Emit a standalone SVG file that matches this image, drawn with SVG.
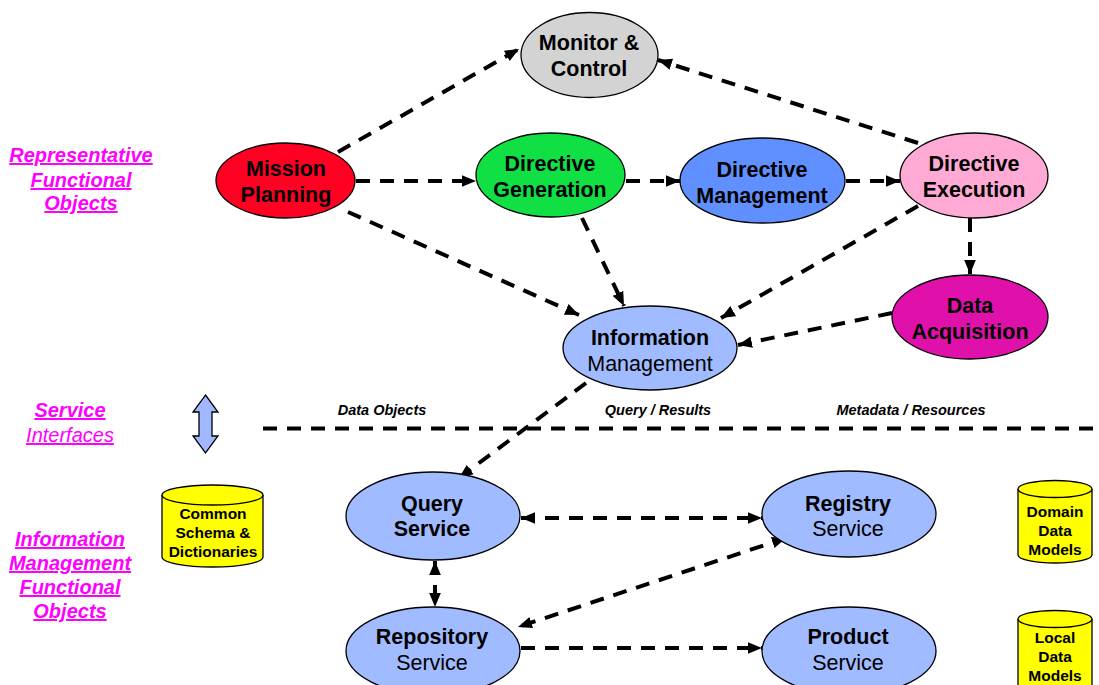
<svg xmlns="http://www.w3.org/2000/svg" width="1099" height="685" viewBox="0 0 1099 685">
<defs>
<style>
.n{stroke:#000;stroke-width:1.3}
.t{font-family:"Liberation Sans",Arial,sans-serif;font-size:21.5px;text-anchor:middle;fill:#000}
.b{font-weight:bold}
.c{font-family:"Liberation Sans",Arial,sans-serif;font-size:15.5px;font-weight:bold;text-anchor:middle;fill:#000}
.lbl{font-family:"Liberation Sans",Arial,sans-serif;font-size:20px;font-style:italic;text-anchor:middle;fill:#FF00FF;text-decoration:underline}
.il{font-family:"Liberation Sans",Arial,sans-serif;font-size:14.5px;font-style:italic;font-weight:bold;text-anchor:middle;fill:#000}
.e{fill:none;stroke:#000;stroke-width:4;stroke-dasharray:14 10}
.cy{fill:#FFFF00;stroke:#000;stroke-width:1.3}
</style>
<marker id="ah" viewBox="0 0 12 10" refX="12" refY="5" markerWidth="14" markerHeight="12" markerUnits="userSpaceOnUse" orient="auto-start-reverse">
<path d="M0,0 L12,5 L0,10 Z" fill="#000"/>
</marker>
</defs>
<rect width="1099" height="685" fill="#fff"/>

<g id="labels">
<text class="lbl b" x="81" y="162">Representative</text>
<text class="lbl b" x="81" y="187">Functional</text>
<text class="lbl b" x="81" y="210">Objects</text>
<text class="lbl b" x="70" y="417">Service</text>
<text class="lbl" x="70" y="442">Interfaces</text>
<text class="lbl b" x="70" y="546">Information</text>
<text class="lbl b" x="70" y="570">Management</text>
<text class="lbl b" x="70" y="594">Functional</text>
<text class="lbl b" x="70" y="618">Objects</text>
<text class="il" x="382" y="415">Data Objects</text>
<text class="il" x="658" y="415">Query / Results</text>
<text class="il" x="911" y="415">Metadata / Resources</text>
</g>

<g id="interface-arrow">
<path d="M205.5,395 L218,412 L212,412 L212,436 L218,436 L205.5,453 L193,436 L199,436 L199,412 L193,412 Z" fill="#9FB8FF" stroke="#000" stroke-width="1.3"/>
</g>

<g id="connectors">
<line class="e" x1="263" y1="428.5" x2="1099" y2="428.5"/>
<line class="e" x1="338" y1="152" x2="519" y2="49" marker-end="url(#ah)"/>
<line class="e" x1="918" y1="143" x2="658" y2="60" marker-end="url(#ah)"/>
<line class="e" x1="356" y1="181" x2="476" y2="181" marker-end="url(#ah)"/>
<line class="e" x1="626" y1="181" x2="680" y2="181" marker-end="url(#ah)"/>
<line class="e" x1="846" y1="181" x2="900" y2="181" marker-end="url(#ah)"/>
<line class="e" x1="348" y1="212" x2="579" y2="315" marker-end="url(#ah)"/>
<line class="e" x1="582" y1="218" x2="624" y2="306" marker-end="url(#ah)"/>
<line class="e" x1="918" y1="206" x2="721" y2="318" marker-end="url(#ah)"/>
<line class="e" x1="970" y1="218" x2="970" y2="274" marker-end="url(#ah)"/>
<line class="e" x1="892" y1="313" x2="738" y2="345" marker-end="url(#ah)"/>
<line class="e" x1="586" y1="383" x2="459" y2="478" marker-end="url(#ah)"/>
<line class="e" x1="521" y1="518" x2="762" y2="518" marker-start="url(#ah)" marker-end="url(#ah)"/>
<line class="e" x1="435" y1="561" x2="435" y2="607" stroke-dasharray="14 8" marker-start="url(#ah)" marker-end="url(#ah)"/>
<line class="e" x1="786" y1="538" x2="518" y2="627" marker-start="url(#ah)" marker-end="url(#ah)"/>
<line class="e" x1="521" y1="648" x2="762" y2="648" marker-end="url(#ah)"/>
</g>

<g id="monitor-control">
<ellipse class="n" cx="589.5" cy="55" rx="68.5" ry="42.5" fill="#D3D3D3"/>
<text class="t b" x="589" y="50">Monitor &amp;</text>
<text class="t b" x="589" y="76">Control</text>
</g>
<g id="mission-planning">
<ellipse class="n" cx="285.5" cy="180.5" rx="69.5" ry="37.5" fill="#FF0022"/>
<text class="t b" x="286" y="176">Mission</text>
<text class="t b" x="286" y="202">Planning</text>
</g>
<g id="directive-generation">
<ellipse class="n" cx="550.5" cy="175" rx="74.5" ry="42" fill="#11E044"/>
<text class="t b" x="550" y="171">Directive</text>
<text class="t b" x="550" y="197">Generation</text>
</g>
<g id="directive-management">
<ellipse class="n" cx="762.5" cy="180.5" rx="82.5" ry="42.5" fill="#6090FF"/>
<text class="t b" x="762" y="177">Directive</text>
<text class="t b" x="762" y="203">Management</text>
</g>
<g id="directive-execution">
<ellipse class="n" cx="974" cy="175.5" rx="74" ry="42.5" fill="#FFAAD4"/>
<text class="t b" x="974" y="171">Directive</text>
<text class="t b" x="974" y="197">Execution</text>
</g>
<g id="data-acquisition">
<ellipse class="n" cx="970" cy="317" rx="78" ry="42" fill="#E010AA"/>
<text class="t b" x="970" y="313">Data</text>
<text class="t b" x="970" y="339">Acquisition</text>
</g>
<g id="information-management">
<ellipse class="n" cx="650" cy="348" rx="87" ry="42" fill="#A0BBFF"/>
<text class="t b" x="650" y="345">Information</text>
<text class="t" x="650" y="371">Management</text>
</g>
<g id="query-service">
<ellipse class="n" cx="433" cy="516" rx="87" ry="44" fill="#A0BBFF"/>
<text class="t b" x="432" y="511">Query</text>
<text class="t b" x="432" y="536">Service</text>
</g>
<g id="registry-service">
<ellipse class="n" cx="849" cy="514" rx="87" ry="43" fill="#A0BBFF"/>
<text class="t b" x="848" y="511">Registry</text>
<text class="t" x="848" y="536">Service</text>
</g>
<g id="repository-service">
<ellipse class="n" cx="433" cy="651" rx="87" ry="44" fill="#A0BBFF"/>
<text class="t b" x="432" y="644">Repository</text>
<text class="t" x="432" y="670">Service</text>
</g>
<g id="product-service">
<ellipse class="n" cx="849" cy="651" rx="87" ry="44" fill="#A0BBFF"/>
<text class="t b" x="848" y="644">Product</text>
<text class="t" x="848" y="670">Service</text>
</g>

<g id="common-schema">
<path class="cy" d="M162,495 L162,557 A50.5,10 0 0 0 263,557 L263,495"/>
<ellipse class="cy" cx="212.5" cy="495" rx="50.5" ry="10"/>
<text class="c" x="213" y="519">Common</text>
<text class="c" x="213" y="538">Schema &amp;</text>
<text class="c" x="213" y="557">Dictionaries</text>
</g>
<g id="domain-data-models">
<path class="cy" d="M1018,489 L1018,555 A37,8 0 0 0 1092,555 L1092,489"/>
<ellipse class="cy" cx="1055" cy="489" rx="37" ry="8.5"/>
<text class="c" x="1055" y="517">Domain</text>
<text class="c" x="1055" y="536">Data</text>
<text class="c" x="1055" y="555">Models</text>
</g>
<g id="local-data-models">
<path class="cy" d="M1018,619 L1018,685 A37,8 0 0 0 1092,685 L1092,619"/>
<ellipse class="cy" cx="1055" cy="619" rx="37" ry="8.5"/>
<text class="c" x="1055" y="643">Local</text>
<text class="c" x="1055" y="662">Data</text>
<text class="c" x="1055" y="681">Models</text>
</g>
</svg>
